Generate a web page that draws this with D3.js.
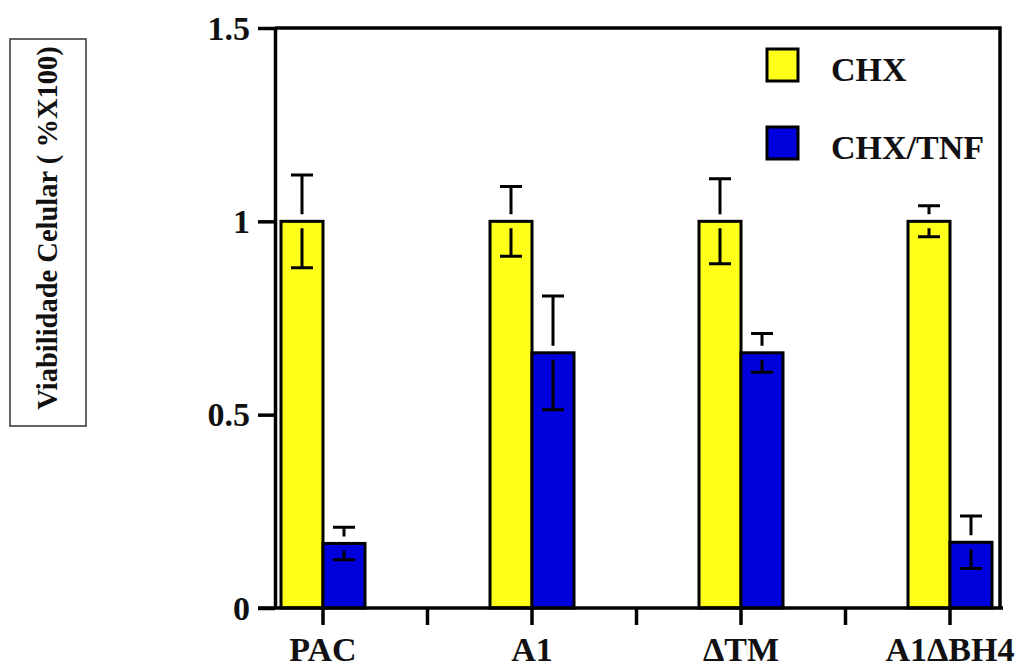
<!DOCTYPE html>
<html>
<head>
<meta charset="utf-8">
<script src="https://cdn.jsdelivr.net/npm/d3@7"></script>
<style>
  body { margin: 0; background: #fff; }
  svg text { font-family: "Liberation Serif", "Times New Roman", Times, serif !important; font-weight: bold; fill: #111; }
</style>
</head>
<body>
<div id="chart"></div>
<script>
const categories = ["PAC", "A1", "\u0394TM", "A1\u0394BH4"]
const seriesNames = ["CHX", "CHX/TNF"]
const chxValues = [1.0, 1.0, 1.0, 1.0]
const chxErrors = [0.12, 0.09, 0.11, 0.04]
const tnfValues = [0.167, 0.66, 0.66, 0.17]
const tnfErrors = [0.042, 0.147, 0.05, 0.068]
const yTicks = [0, 0.5, 1, 1.5]
const yTickLabels = ["0", "0.5", "1", "1.5"]

const width = 1020, height = 668
const colors = ["#ffff1a", "#0000dc"]

const svg = d3.select("#chart").append("svg")
    .attr("width", width)
    .attr("height", height)

const y = d3.scaleLinear().domain([0, 1.5]).range([608, 28])
const x = d3.scaleBand().domain(categories).range([218.5, 1054.5]).padding(0)
const cx = d => x(d) + x.bandwidth() / 2
const barW = 42

// series table built from the arrays
const rows = categories.map((c, i) => ({
    cat: c,
    vals: [
        { s: 0, v: chxValues[i], e: chxErrors[i] },
        { s: 1, v: tnfValues[i], e: tnfErrors[i] }
    ]
}))

// frame (top and right)
svg.append("path")
    .attr("d", `M${275},${y(1.5)}H${1000}V${y(0)}`)
    .attr("fill", "none").attr("stroke", "#000").attr("stroke-width", 3.5)

// bars
const groups = svg.selectAll(".grp").data(rows).enter().append("g")
groups.selectAll("rect").data(d => d.vals.map(v => Object.assign({ cat: d.cat }, v)))
    .enter().append("rect")
    .attr("x", d => d.s === 0 ? cx(d.cat) - barW : cx(d.cat))
    .attr("y", d => y(d.v))
    .attr("width", barW)
    .attr("height", d => y(0) - y(d.v))
    .attr("fill", d => colors[d.s])
    .attr("stroke", "#000")
    .attr("stroke-width", 3)

// error bars (split around the bar top, like the original)
const gap = 7, capW = 22
const errs = rows.flatMap(r => r.vals.map(v => Object.assign({ cat: r.cat }, v)))
const ex = d => d.s === 0 ? cx(d.cat) - barW / 2 : cx(d.cat) + barW / 2
const eb = svg.append("g").attr("stroke", "#000").attr("stroke-width", 3).attr("fill", "none")
eb.selectAll("path").data(errs).enter().append("path")
    .attr("d", d => {
        const top = y(d.v + d.e), bot = y(d.v - d.e), m = y(d.v), xx = ex(d)
        return `M${xx},${m - gap}V${top}M${xx - capW / 2},${top}H${xx + capW / 2}` +
            `M${xx},${m + gap}V${bot}M${xx - capW / 2},${bot}H${xx + capW / 2}`
    })

// y axis
const yAxis = svg.append("g")
    .attr("transform", "translate(275,0)")
    .call(d3.axisLeft(y).tickValues(yTicks).tickSize(17).tickSizeOuter(0)
        .tickFormat((d, i) => yTickLabels[i]))
yAxis.attr("font-family", null).attr("font-size", null)
yAxis.select(".domain").attr("stroke", "#000").attr("stroke-width", 3.5)
yAxis.selectAll(".tick line").attr("stroke", "#000").attr("stroke-width", 3.5)
yAxis.selectAll(".tick text")
    .attr("x", -25).attr("dy", "0.33em")
    .style("font-size", "34px")
    .attr("fill", "#111")

// x axis
svg.append("line")
    .attr("x1", 258).attr("x2", 1003)
    .attr("y1", y(0)).attr("y2", y(0))
    .attr("stroke", "#000").attr("stroke-width", 3.5)
const xTickPos = categories.flatMap((c, i) => i < categories.length - 1
    ? [cx(c), (cx(c) + cx(categories[i + 1])) / 2] : [cx(c)])
svg.selectAll(".xtick").data(xTickPos).enter().append("line")
    .attr("x1", d => d).attr("x2", d => d)
    .attr("y1", y(0)).attr("y2", y(0) + 17)
    .attr("stroke", "#000").attr("stroke-width", 3.5)
svg.selectAll(".xlab").data(categories).enter().append("text")
    .attr("x", d => cx(d)).attr("y", 661)
    .attr("text-anchor", "middle")
    .style("font-size", "34px")
    .text(d => d)

// y title with box
svg.append("rect")
    .attr("x", 10).attr("y", 39).attr("width", 76).attr("height", 387)
    .attr("fill", "none").attr("stroke", "#333").attr("stroke-width", 1.5)
svg.append("text")
    .attr("transform", "translate(57,228) rotate(-90)")
    .attr("text-anchor", "middle")
    .style("font-size", "28.5px")
    .text("Viabilidade Celular ( %X100)")

// legend
const leg = svg.selectAll(".leg").data(seriesNames).enter().append("g")
    .attr("transform", (d, i) => `translate(767,${49 + i * 78})`)
leg.append("rect")
    .attr("width", 31).attr("height", 32)
    .attr("fill", (d, i) => colors[i])
    .attr("stroke", "#000").attr("stroke-width", 3)
leg.append("text")
    .attr("x", 64).attr("y", 32)
    .style("font-size", "34px")
    .text(d => d)
</script>
</body>
</html>
